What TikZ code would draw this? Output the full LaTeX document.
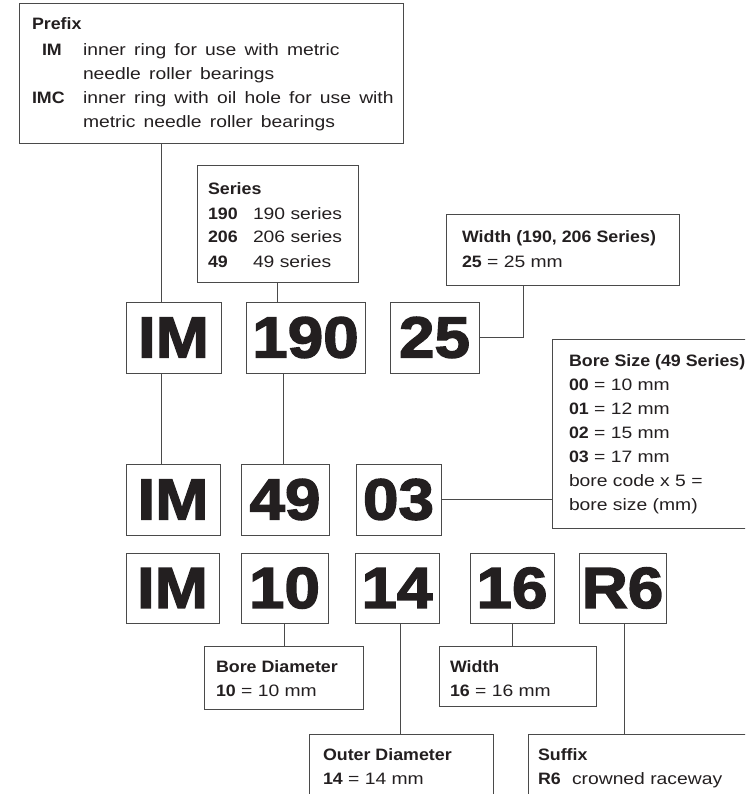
\documentclass[tikz,border=0pt]{standalone}
\usepackage{fontspec}
\setmainfont{Liberation Sans}[UprightFeatures={FakeStretch=1.17}, BoldFeatures={FakeStretch=1.08}]
\newfontfamily\codefont{Liberation Sans}[BoldFeatures={FakeBold=2.5, FakeStretch=1.1}]
\newcommand\widesp{\spaceskip 8.2pt\relax}
\definecolor{ink}{HTML}{231F20}
\definecolor{rule}{HTML}{4A4A4A}
\begin{document}
\begin{tikzpicture}[x=1pt,y=-1pt,
  every node/.style={inner sep=0pt, outer sep=0pt, text=ink},
  box/.style={draw=rule, line width=1pt, anchor=north west, fill=none},
  code/.style={draw=rule, line width=1pt, font=\codefont\bfseries\fontsize{58}{58}\selectfont},
  txt/.style={anchor=base west, font=\fontsize{16.5}{19}\selectfont},
  wtxt/.style={anchor=base west, font=\fontsize{16.5}{19}\selectfont\widesp},
  hd/.style={anchor=base west, font=\fontsize{16.5}{19}\selectfont\bfseries},
  link/.style={draw=rule, line width=1pt}]
\useasboundingbox (0,0) rectangle (745,794);
\clip (0,0) rectangle (745,794);

% ---------- description boxes ----------
\node[box, minimum width=384, minimum height=140] (prefix) at (19,4) {};
\node[hd] at (32,30) {Prefix};
\node[hd] at (42,56) {IM};
\node[wtxt] at (83,56) {inner ring for use with metric};
\node[wtxt] at (83,80) {needle roller bearings};
\node[hd] at (32,104) {IMC};
\node[wtxt] at (83,104) {inner ring with oil hole for use with};
\node[wtxt] at (83,128) {metric needle roller bearings};

\node[box, minimum width=161, minimum height=116] (series) at (197,166) {};
\node[hd] at (208,195) {Series};
\node[hd] at (208,219) {190};
\node[txt] at (253,219) {190 series};
\node[hd] at (208,243) {206};
\node[txt] at (253,243) {206 series};
\node[hd] at (208,267) {49};
\node[txt] at (253,267) {49 series};

\node[box, minimum width=233, minimum height=70] (widthA) at (446,215) {};
\node[hd] at (462,243) {Width (190, 206 Series)};
\node[txt] at (462,267) {\textbf{25} = 25 mm};

\node[box, minimum width=210, minimum height=189] (bore) at (552,339) {};
\node[hd] at (569,366) {Bore Size (49 Series)};
\node[txt] at (569,390) {\textbf{00} = 10 mm};
\node[txt] at (569,414) {\textbf{01} = 12 mm};
\node[txt] at (569,438) {\textbf{02} = 15 mm};
\node[txt] at (569,462) {\textbf{03} = 17 mm};
\node[txt] at (569,486) {bore code x 5 =};
\node[txt] at (569,510) {bore size (mm)};

\node[box, minimum width=159, minimum height=63] (boreD) at (204,646) {};
\node[hd] at (216,672) {Bore Diameter};
\node[txt] at (216,696) {\textbf{10} = 10 mm};

\node[box, minimum width=157, minimum height=60] (widthB) at (439,646) {};
\node[hd] at (450,672) {Width};
\node[txt] at (450,696) {\textbf{16} = 16 mm};

\node[box, minimum width=184, minimum height=80] (outer) at (309,734) {};
\node[hd] at (323,760) {Outer Diameter};
\node[txt] at (323,784) {\textbf{14} = 14 mm};

\node[box, minimum width=240, minimum height=80] (suffix) at (528,734) {};
\node[hd] at (538,760) {Suffix};
\node[txt] at (538,784) {\textbf{R6}};
\node[txt] at (572,784) {crowned raceway};

% ---------- code boxes ----------
\node[code, minimum width=95, minimum height=71] (imA) at (173.5,337.5) {IM};
\node[code, minimum width=119, minimum height=71] (n190) at (305.5,337.5) {190};
\node[code, minimum width=89, minimum height=71] (n25) at (434.5,337.5) {25};

\node[code, minimum width=94, minimum height=71] (imB) at (173,499.5) {IM};
\node[code, minimum width=88, minimum height=71] (n49) at (285,499.5) {49};
\node[code, minimum width=85, minimum height=71] (n03) at (398.5,499.5) {03};

\node[code, minimum width=93, minimum height=70] (imC) at (172.5,588) {IM};
\node[code, minimum width=87, minimum height=70] (n10) at (284.5,588) {10};
\node[code, minimum width=84, minimum height=70] (n14) at (397,588) {14};
\node[code, minimum width=84, minimum height=70] (n16) at (512,588) {16};
\node[code, minimum width=87, minimum height=70] (nR6) at (622.5,588) {R6};

% ---------- connectors ----------
\coordinate (cA) at (161,0);
\coordinate (cS) at (277,0);
\coordinate (cB) at (283,0);
\coordinate (cW) at (523,0);
\draw[link] (cA |- prefix.south) -- (cA |- imA.north);
\draw[link] (cA |- imA.south) -- (cA |- imB.north);
\draw[link] (cS |- series.south) -- (cS |- n190.north);
\draw[link] (cB |- n190.south) -- (cB |- n49.north);
\draw[link] (cW |- widthA.south) |- (n25.east);
\draw[link] (n03.east) -- (n03.east -| bore.west);
\draw[link] (n10.south) -- (n10.south |- boreD.north);
\draw[link] ([xshift=3]n14.south) -- ([xshift=3]n14.south |- outer.north);
\draw[link] (n16.south) -- (n16.south |- widthB.north);
\draw[link] ([xshift=1.5]nR6.south) -- ([xshift=1.5]nR6.south |- suffix.north);
\end{tikzpicture}
\end{document}
